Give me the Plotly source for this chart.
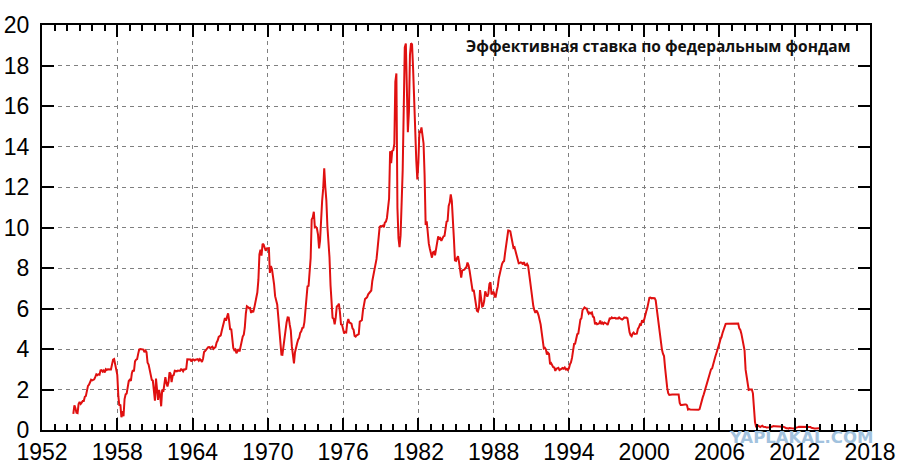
import plotly.graph_objects as go
import pandas as pd

# effective federal funds rate, monthly, from July 1954
start_month = "1954-07-01"
rate = [
    0.80, 1.22, 1.07, 0.85, 0.83, 1.28,
    1.39, 1.29, 1.35, 1.43, 1.43, 1.64, 1.68, 1.96, 2.18, 2.24, 2.35, 2.48,
    2.45, 2.50, 2.50, 2.62, 2.75, 2.71, 2.75, 2.73, 2.95, 2.96, 2.88, 2.94,
    2.84, 3.00, 2.96, 3.00, 3.00, 3.00, 2.99, 3.24, 3.47, 3.50, 3.28, 2.98,
    2.72, 1.67, 1.20, 1.26, 0.63, 0.93, 0.68, 1.53, 1.76, 1.80, 2.27, 2.42,
    2.48, 2.43, 2.80, 2.96, 2.90, 3.39, 3.47, 3.50, 3.76, 3.98, 4.00, 3.99,
    3.99, 3.97, 3.84, 3.92, 3.85, 3.32, 3.23, 2.98, 2.60, 2.47, 2.44, 1.98,
    1.45, 2.54, 2.02, 1.49, 1.98, 1.73, 1.17, 2.00, 1.88, 2.26, 2.61, 2.33,
    2.15, 2.37, 2.85, 2.78, 2.36, 2.68, 2.71, 2.93, 2.90, 2.90, 2.94, 2.93,
    2.92, 3.00, 2.98, 2.90, 3.00, 2.99, 3.02, 3.49, 3.48, 3.50, 3.48, 3.38,
    3.48, 3.48, 3.43, 3.47, 3.50, 3.50, 3.42, 3.50, 3.45, 3.36, 3.52, 3.85,
    3.90, 3.98, 4.04, 4.09, 4.10, 4.04, 4.09, 4.12, 4.01, 4.08, 4.10, 4.32,
    4.42, 4.60, 4.65, 4.67, 4.90, 5.17, 5.30, 5.53, 5.40, 5.53, 5.76, 5.40,
    4.94, 5.00, 4.53, 4.05, 3.94, 3.98, 3.79, 3.90, 3.99, 3.88, 4.13, 4.51,
    4.61, 4.71, 5.05, 5.76, 6.11, 6.07, 6.02, 6.03, 5.78, 5.91, 5.82, 6.02,
    6.30, 6.61, 6.79, 7.41, 8.67, 8.90, 8.61, 9.19, 9.15, 9.00, 8.85, 8.97,
    8.98, 8.98, 7.76, 8.10, 7.95, 7.61, 7.21, 6.61, 6.29, 6.20, 5.60, 4.90,
    4.14, 3.72, 3.71, 4.15, 4.63, 4.91, 5.31, 5.56, 5.55, 5.20, 4.91, 4.14,
    3.50, 3.29, 3.83, 4.17, 4.27, 4.46, 4.55, 4.80, 4.87, 5.04, 5.06, 5.33,
    5.94, 6.58, 7.09, 7.12, 7.84, 8.49, 10.40, 10.50, 10.78, 10.01, 10.03, 9.95,
    9.65, 8.97, 9.35, 10.51, 11.31, 11.93, 12.92, 12.01, 11.34, 10.06, 9.45, 8.53,
    7.13, 6.24, 5.54, 5.49, 5.22, 5.55, 6.10, 6.14, 6.24, 5.82, 5.22, 5.20,
    4.87, 4.77, 4.84, 4.82, 5.29, 5.48, 5.31, 5.29, 5.25, 5.02, 4.95, 4.65,
    4.61, 4.68, 4.69, 4.73, 5.35, 5.39, 5.42, 5.90, 6.14, 6.47, 6.51, 6.56,
    6.70, 6.78, 6.79, 6.89, 7.36, 7.60, 7.81, 8.04, 8.45, 8.96, 9.76, 10.03,
    10.07, 10.06, 10.09, 10.01, 10.24, 10.29, 10.47, 10.94, 11.43, 13.77, 13.18, 13.78,
    13.82, 14.13, 17.19, 17.61, 10.98, 9.47, 9.03, 9.61, 10.87, 12.81, 15.85, 18.90,
    19.08, 15.93, 14.70, 15.72, 18.52, 19.10, 19.04, 17.82, 15.87, 15.08, 13.31, 12.37,
    13.22, 14.78, 14.68, 14.94, 14.45, 14.15, 12.59, 10.12, 10.31, 9.71, 9.20, 8.95,
    8.68, 8.51, 8.77, 8.80, 8.63, 8.98, 9.37, 9.56, 9.45, 9.48, 9.34, 9.47,
    9.56, 9.59, 9.91, 10.29, 10.32, 11.06, 11.23, 11.64, 11.30, 9.99, 9.43, 8.38,
    8.35, 8.50, 8.58, 8.27, 7.97, 7.53, 7.88, 7.90, 7.92, 7.99, 8.05, 8.27,
    8.14, 7.86, 7.48, 6.99, 6.85, 6.92, 6.56, 6.17, 5.89, 5.85, 6.04, 6.91,
    6.43, 6.10, 6.13, 6.37, 6.85, 6.73, 6.58, 6.73, 7.22, 7.29, 6.69, 6.77,
    6.83, 6.58, 6.58, 6.87, 7.09, 7.51, 7.75, 8.01, 8.19, 8.30, 8.35, 8.76,
    9.12, 9.36, 9.85, 9.84, 9.81, 9.53, 9.24, 8.99, 9.02, 8.84, 8.55, 8.45,
    8.23, 8.24, 8.28, 8.26, 8.18, 8.29, 8.15, 8.13, 8.20, 8.11, 7.81, 7.31,
    6.91, 6.25, 6.12, 5.91, 5.78, 5.90, 5.82, 5.66, 5.45, 5.21, 4.81, 4.43,
    4.03, 4.06, 3.98, 3.73, 3.82, 3.76, 3.25, 3.30, 3.22, 3.10, 3.09, 2.92,
    3.02, 3.03, 3.07, 2.96, 3.00, 3.04, 3.06, 3.03, 3.09, 2.99, 3.02, 2.96,
    3.05, 3.25, 3.34, 3.56, 4.01, 4.25, 4.26, 4.47, 4.73, 4.76, 5.29, 5.45,
    5.53, 5.92, 5.98, 6.05, 6.01, 6.00, 5.85, 5.74, 5.80, 5.76, 5.80, 5.60,
    5.56, 5.22, 5.31, 5.22, 5.24, 5.27, 5.40, 5.22, 5.30, 5.24, 5.31, 5.29,
    5.25, 5.19, 5.39, 5.51, 5.50, 5.56, 5.52, 5.54, 5.54, 5.50, 5.52, 5.50,
    5.56, 5.51, 5.49, 5.45, 5.49, 5.56, 5.54, 5.55, 5.51, 5.07, 4.83, 4.68,
    4.63, 4.76, 4.81, 4.74, 4.74, 4.76, 4.99, 5.07, 5.22, 5.20, 5.42, 5.30,
    5.45, 5.73, 5.85, 6.02, 6.27, 6.53, 6.54, 6.50, 6.52, 6.51, 6.51, 6.40,
    5.98, 5.49, 5.31, 4.80, 4.21, 3.97, 3.77, 3.65, 3.07, 2.49, 2.09, 1.82,
    1.73, 1.74, 1.73, 1.75, 1.75, 1.75, 1.73, 1.74, 1.75, 1.75, 1.34, 1.24,
    1.24, 1.26, 1.25, 1.26, 1.26, 1.22, 1.01, 1.03, 1.01, 1.01, 1.00, 0.98,
    1.00, 1.01, 1.00, 1.00, 1.00, 1.03, 1.26, 1.43, 1.61, 1.76, 1.93, 2.16,
    2.28, 2.50, 2.63, 2.79, 3.00, 3.04, 3.26, 3.50, 3.62, 3.78, 4.00, 4.16,
    4.29, 4.49, 4.59, 4.79, 4.94, 4.99, 5.24, 5.25, 5.25, 5.25, 5.25, 5.24,
    5.25, 5.26, 5.26, 5.25, 5.25, 5.25, 5.26, 5.02, 4.94, 4.76, 4.49, 4.24,
    3.94, 2.98, 2.61, 2.28, 1.98, 2.00, 2.01, 2.00, 1.81, 0.97, 0.39, 0.16,
    0.15, 0.22, 0.18, 0.15, 0.18, 0.21, 0.16, 0.16, 0.15, 0.12, 0.12, 0.12,
    0.11, 0.13, 0.16, 0.20, 0.20, 0.18, 0.18, 0.19, 0.19, 0.19, 0.19, 0.18,
    0.17, 0.16, 0.14, 0.10, 0.09, 0.09, 0.07, 0.10, 0.08, 0.07, 0.08, 0.07,
    0.08, 0.10, 0.13, 0.14, 0.16, 0.16, 0.16, 0.13, 0.14, 0.16, 0.16, 0.16,
    0.14, 0.15, 0.14, 0.15, 0.11, 0.09, 0.09, 0.08, 0.08, 0.09, 0.08, 0.09,
    0.07, 0.07,
]
months = pd.date_range(start_month, periods=len(rate), freq="MS")

legend_text = "Эффективная ставка по федеральным фондам"
watermark = "YAPLAKAL.COM"

fig = go.Figure()

fig.add_trace(go.Scatter(
    x=months,
    y=rate,
    mode="lines",
    line=dict(color="#e01010", width=2),
    name=legend_text,
    showlegend=False,
))

fig.add_annotation(
    text="<b>" + legend_text + "</b>",
    xref="paper", yref="paper",
    x=0.98, y=0.948,
    xanchor="right", yanchor="middle",
    showarrow=False,
    font=dict(family="Open Sans", size=15.5, color="#111111"),
)

fig.add_annotation(
    text="<b>" + watermark + "</b>",
    xref="paper", yref="paper",
    x=1.006, y=-0.018,
    xanchor="right", yanchor="middle",
    showarrow=False,
    font=dict(family="DejaVu Sans", size=16.5, color="#a2c2de"),
)

fig.update_layout(
    width=900,
    height=471,
    paper_bgcolor="white",
    plot_bgcolor="white",
    margin=dict(l=42, r=30, t=25, b=41),
    font=dict(family="Liberation Sans, Arial", size=23, color="black"),
)

fig.update_xaxes(
    type="date",
    range=["1952-01-01", "2018-01-01"],
    tick0="1952-01-01",
    dtick="M72",
    tickformat="%Y",
    ticks="inside",
    ticklen=12,
    tickwidth=2,
    tickcolor="black",
    minor=dict(dtick="M12", ticks="inside", ticklen=6, tickwidth=2, tickcolor="black", showgrid=False),
    showline=True,
    linewidth=2,
    linecolor="black",
    mirror="ticks",
    showgrid=True,
    gridcolor="#808080",
    griddash="4px,4px",
    gridwidth=1,
    zeroline=False,
    automargin=False,
)

fig.update_yaxes(
    range=[0, 20],
    dtick=2,
    ticks="inside",
    ticklen=12,
    tickwidth=2,
    tickcolor="black",
    ticklabelstandoff=6,
    showline=True,
    linewidth=2,
    linecolor="black",
    mirror="ticks",
    showgrid=True,
    gridcolor="#808080",
    griddash="4px,4px",
    gridwidth=1,
    zeroline=False,
    automargin=False,
)

# drop the default page margin so the chart sits at the window's corner
fig.write_html(
    "out.html",
    config={"displayModeBar": False},
    post_script="document.body.style.margin = '0';",
)
